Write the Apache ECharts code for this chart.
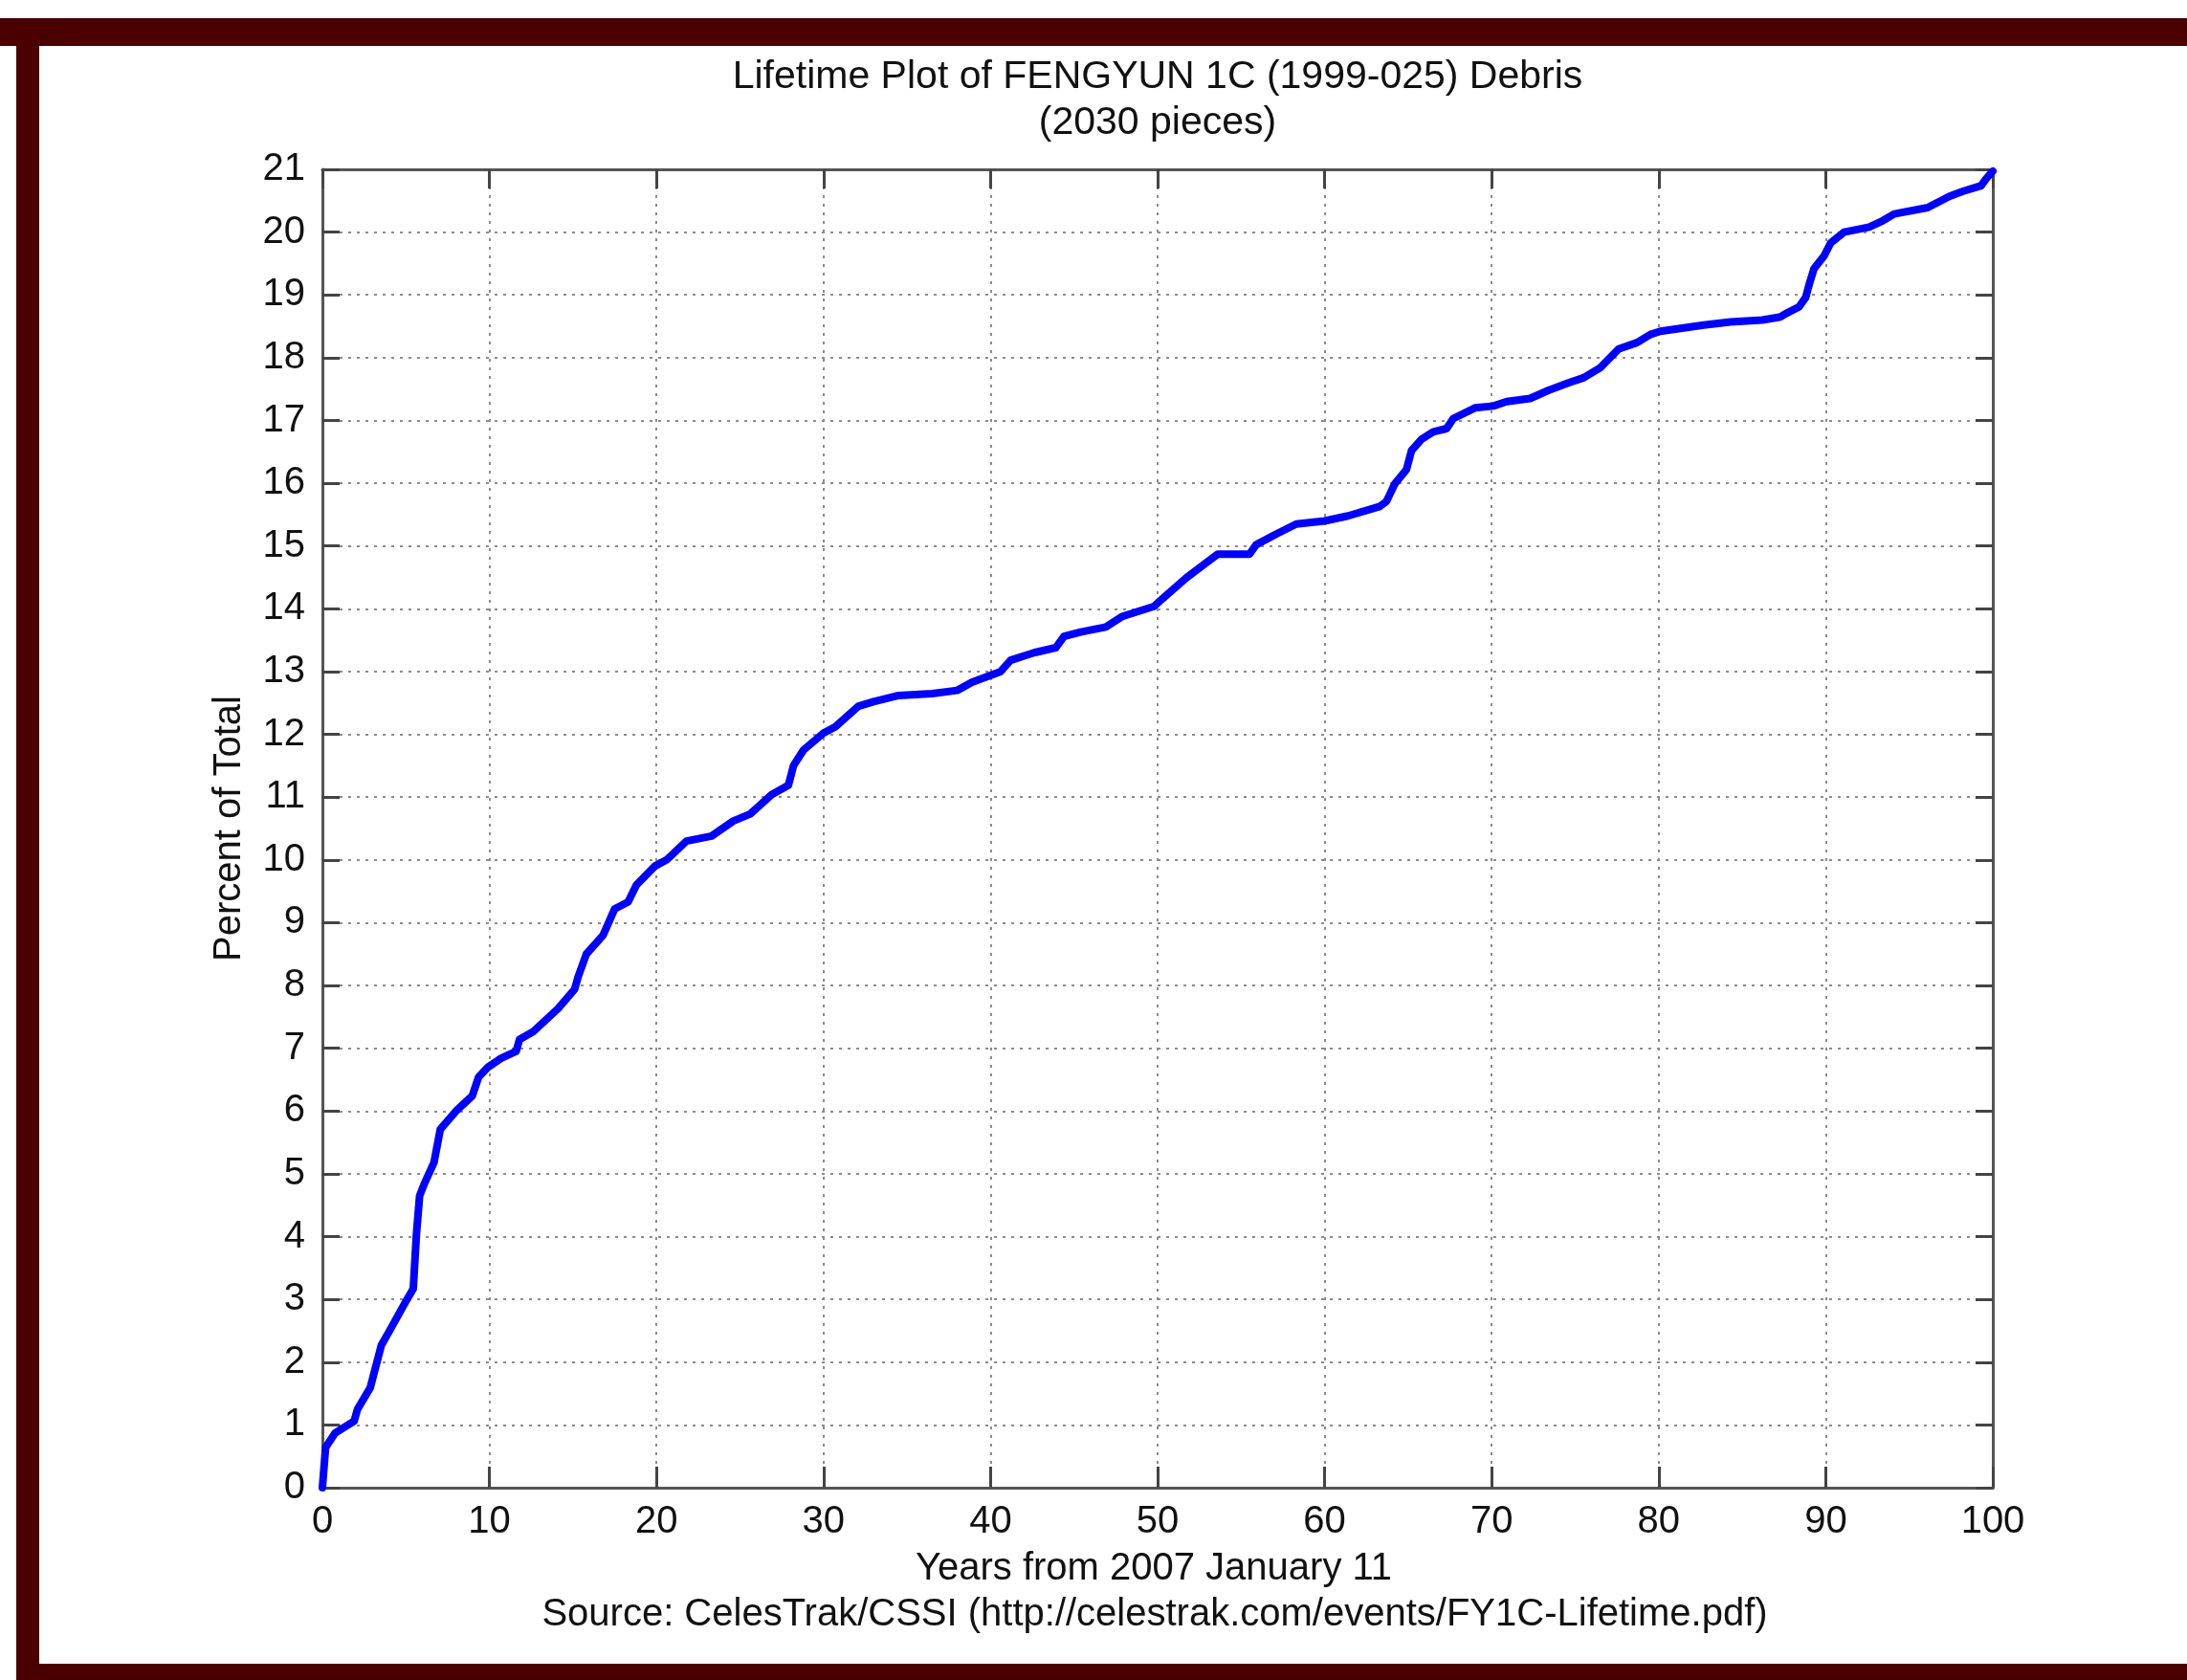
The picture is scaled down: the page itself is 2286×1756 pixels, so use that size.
<!DOCTYPE html>
<html>
<head>
<meta charset="utf-8">
<script src="https://cdn.jsdelivr.net/npm/echarts@6/dist/echarts.min.js"></script>
<style>
html,body{margin:0;padding:0;background:#fff;}
#chart{width:2286px;height:1756px;}
</style>
</head>
<body>
<div id="chart"></div>
<script>
// Years from 2007 January 11
var years = [0,0.19,0.76,1.9,2.1,2.86,3.53,4.0,4.96,5.44,5.63,5.82,6.1,6.68,7.06,8.0,8.97,9.35,9.92,10.7,11.6,11.8,12.6,14.1,15.1,15.3,15.8,16.8,17.5,18.3,18.8,19.9,20.6,21.8,23.3,24.6,25.6,26.9,27.9,28.2,28.8,30.0,30.7,32.1,33.0,34.5,36.5,38.0,38.9,40.6,41.2,42.6,43.9,44.4,45.4,46.9,47.9,49.8,50.2,51.7,53.1,53.6,55.5,55.9,57.1,58.3,60,61.4,63.3,63.7,64.2,64.9,65.2,65.8,66.5,67.3,67.7,69.0,70.1,70.9,72.3,73.4,74.7,75.5,76.5,77.6,78.7,79.5,80.1,81.4,82.7,84.3,86.2,87.3,87.6,88.4,88.8,89.0,89.3,89.9,90.3,91.1,92.6,93.4,94.1,96.1,97.4,98.2,99.3,99.6,100];
// Percent of total decayed
var percent = [0,0.64,0.87,1.06,1.25,1.59,2.27,2.49,2.95,3.17,4.04,4.65,4.84,5.18,5.71,6.0,6.24,6.54,6.70,6.84,6.95,7.14,7.26,7.63,7.94,8.13,8.5,8.8,9.22,9.33,9.6,9.9,10.0,10.3,10.38,10.62,10.73,11.04,11.19,11.5,11.75,12.02,12.12,12.45,12.52,12.62,12.65,12.70,12.83,13.0,13.18,13.30,13.38,13.56,13.63,13.71,13.88,14.04,14.14,14.49,14.77,14.87,14.87,15.02,15.19,15.35,15.4,15.48,15.63,15.71,15.99,16.22,16.52,16.70,16.82,16.87,17.03,17.2,17.23,17.30,17.35,17.48,17.61,17.68,17.84,18.14,18.24,18.37,18.42,18.47,18.52,18.57,18.6,18.65,18.70,18.81,18.96,19.16,19.42,19.62,19.83,20.0,20.08,20.18,20.29,20.39,20.57,20.65,20.74,20.85,20.97];

var titleLine1 = 'Lifetime Plot of FENGYUN 1C (1999-025) Debris';
var titleLine2 = '(2030 pieces)';
var xName = 'Years from 2007 January 11';
var yName = 'Percent of Total';
var sourceText = 'Source: CelesTrak/CSSI (http://celestrak.com/events/FY1C-Lifetime.pdf)';

var FONT = "'Liberation Sans', Arial, sans-serif";
var TXT = '#111';
var FRAME = '#4a0000';

var data = years.map(function (x, i) { return [x, percent[i]]; });

var chart = echarts.init(document.getElementById('chart'), null, {renderer: 'canvas'});

var axisLineStyle = {color: '#555', width: 3};
var gridStyle = {color: '#8c8c8c', width: 2, type: [3, 6]};

chart.setOption({
  animation: false,
  backgroundColor: '#fff',
  grid: {left: 337, top: 177, width: 1746, height: 1378, containLabel: false, outerBoundsMode: 'none'},
  xAxis: [{
    type: 'value', min: 0, max: 100, interval: 10, position: 'bottom',
    axisLine: {show: true, lineStyle: axisLineStyle},
    axisTick: {show: true, inside: true, length: 22, lineStyle: {color: '#444', width: 3}},
    axisLabel: {show: true, margin: 16, fontSize: 40, fontFamily: FONT, color: TXT},
    splitLine: {show: true, lineStyle: gridStyle}
  }, {
    type: 'value', min: 0, max: 100, interval: 10, position: 'top',
    axisLine: {show: true, onZero: false, lineStyle: axisLineStyle},
    axisTick: {show: true, inside: true, length: 20, lineStyle: {color: '#444', width: 3}},
    axisLabel: {show: false},
    splitLine: {show: false}
  }],
  yAxis: [{
    type: 'value', min: 0, max: 21, interval: 1, position: 'left',
    axisLine: {show: true, onZero: false, lineStyle: axisLineStyle},
    axisTick: {show: true, inside: true, length: 18, lineStyle: {color: '#444', width: 3}},
    axisLabel: {show: true, margin: 18, fontSize: 40, fontFamily: FONT, color: TXT},
    splitLine: {show: true, lineStyle: gridStyle}
  }, {
    type: 'value', min: 0, max: 21, interval: 1, position: 'right',
    axisLine: {show: true, onZero: false, lineStyle: axisLineStyle},
    axisTick: {show: true, inside: true, length: 18, lineStyle: {color: '#444', width: 3}},
    axisLabel: {show: false},
    splitLine: {show: false}
  }],
  series: [{
    type: 'line',
    xAxisIndex: 0, yAxisIndex: 0,
    data: data,
    showSymbol: false,
    symbol: 'none',
    lineStyle: {color: '#0000ff', width: 8, join: 'round', cap: 'round'},
    z: 5
  }],
  graphic: [
    {type: 'rect', shape: {x: 0, y: 19, width: 2286, height: 29}, style: {fill: FRAME}, silent: true},
    {type: 'rect', shape: {x: 17, y: 19, width: 24, height: 1737}, style: {fill: FRAME}, silent: true},
    {type: 'rect', shape: {x: 17, y: 1739, width: 2269, height: 17}, style: {fill: FRAME}, silent: true},
    {type: 'text', x: 1210, y: 81, style: {text: titleLine1, font: "41px " + FONT, fill: TXT, textAlign: 'center', textVerticalAlign: 'middle'}},
    {type: 'text', x: 1210, y: 129, style: {text: titleLine2, font: "41px " + FONT, fill: TXT, textAlign: 'center', textVerticalAlign: 'middle'}},
    {type: 'text', x: 1206, y: 1640, style: {text: xName, font: "40px " + FONT, fill: TXT, textAlign: 'center', textVerticalAlign: 'middle'}},
    {type: 'text', x: 1207, y: 1688, style: {text: sourceText, font: "40px " + FONT, fill: TXT, textAlign: 'center', textVerticalAlign: 'middle'}},
    {type: 'text', x: 240, y: 866, rotation: Math.PI / 2, style: {text: yName, font: "40px " + FONT, fill: TXT, textAlign: 'center', textVerticalAlign: 'middle'}}
  ]
});
</script>
</body>
</html>
